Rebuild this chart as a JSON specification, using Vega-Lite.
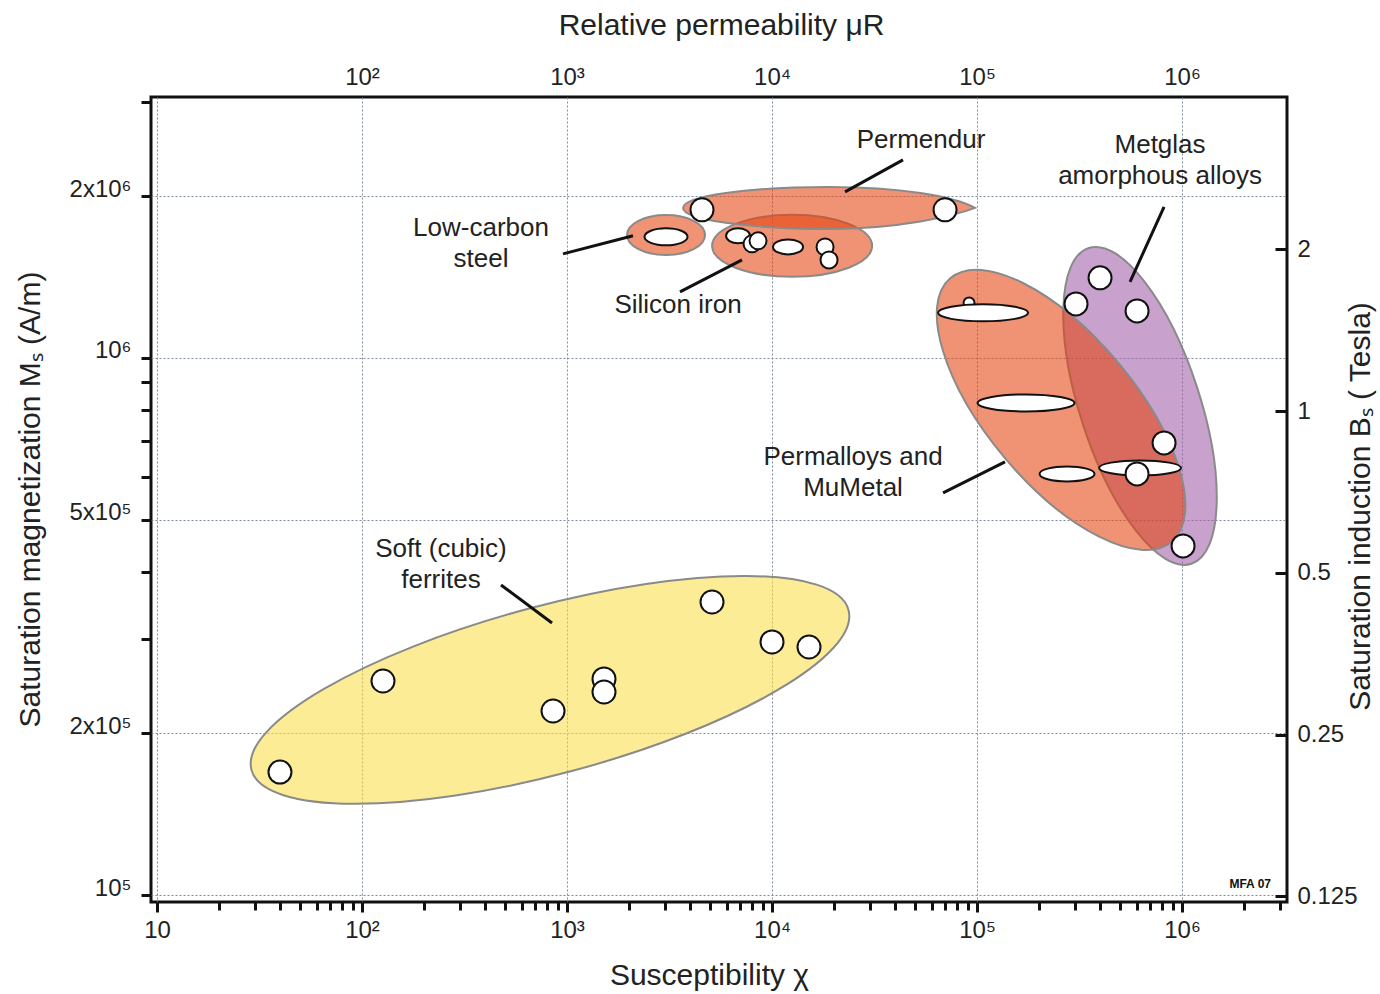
{
  "$schema": "https://vega.github.io/schema/vega-lite/v6.json",
  "width": 1136,
  "height": 805,
  "autosize": {"type": "none"},
  "padding": {"left": 151, "top": 97, "right": 93, "bottom": 92},
  "background": "white",
  "config": {
    "view": {"stroke": "#111111", "strokeWidth": 3},
    "font": "Liberation Sans",
    "text": {"font": "Liberation Sans"},
    "axis": {
      "labelFont": "Liberation Sans",
      "titleFont": "Liberation Sans",
      "labelColor": "#222222",
      "titleColor": "#222222",
      "titleFontWeight": "normal",
      "domain": false,
      "tickColor": "#111111"
    }
  },
  "datasets": {
    "regions": [
      {"material": "Soft (cubic) ferrites", "chi": 826, "ms": 240900},
      {"material": "Metglas amorphous alloys", "chi": 623700, "ms": 814000},
      {"material": "Permalloys and MuMetal", "chi": 257000, "ms": 800300},
      {"material": "Low-carbon steel", "chi": 3041, "ms": 1694000},
      {"material": "Silicon iron", "chi": 12530, "ms": 1617000},
      {"material": "Permendur", "chi": 18970, "ms": 1902000}
    ],
    "markers": [
      {"material": "Permalloys and MuMetal", "chi": 91410, "ms": 1265900, "marker": "tiny"},
      {"material": "Low-carbon steel", "chi": 3041, "ms": 1680500, "marker": "steel"},
      {"material": "Silicon iron", "chi": 6827, "ms": 1687700, "marker": "si1"},
      {"material": "Silicon iron", "chi": 7988, "ms": 1630400, "marker": "small"},
      {"material": "Silicon iron", "chi": 8544, "ms": 1651500, "marker": "small"},
      {"material": "Silicon iron", "chi": 11970, "ms": 1609400, "marker": "si2"},
      {"material": "Silicon iron", "chi": 18140, "ms": 1609400, "marker": "small"},
      {"material": "Silicon iron", "chi": 18970, "ms": 1522000, "marker": "small"},
      {"material": "Permalloys and MuMetal", "chi": 106980, "ms": 1212900, "marker": "p1"},
      {"material": "Permalloys and MuMetal", "chi": 173400, "ms": 824500, "marker": "p2"},
      {"material": "Permalloys and MuMetal", "chi": 274800, "ms": 608100, "marker": "p3"},
      {"material": "Permalloys and MuMetal", "chi": 624000, "ms": 623900, "marker": "p4"},
      {"material": "Soft (cubic) ferrites", "chi": 39.8, "ms": 169400, "marker": "large"},
      {"material": "Soft (cubic) ferrites", "chi": 126.6, "ms": 250300, "marker": "large"},
      {"material": "Soft (cubic) ferrites", "chi": 854.6, "ms": 220100, "marker": "large"},
      {"material": "Soft (cubic) ferrites", "chi": 1515, "ms": 252500, "marker": "large"},
      {"material": "Soft (cubic) ferrites", "chi": 1515, "ms": 238800, "marker": "large"},
      {"material": "Soft (cubic) ferrites", "chi": 5097, "ms": 351200, "marker": "large"},
      {"material": "Soft (cubic) ferrites", "chi": 10000, "ms": 295900, "marker": "large"},
      {"material": "Soft (cubic) ferrites", "chi": 15150, "ms": 289600, "marker": "large"},
      {"material": "Permendur", "chi": 4554, "ms": 1886800, "marker": "large"},
      {"material": "Permendur", "chi": 69820, "ms": 1886800, "marker": "large"},
      {"material": "Metglas amorphous alloys", "chi": 304000, "ms": 1260500, "marker": "large"},
      {"material": "Metglas amorphous alloys", "chi": 398100, "ms": 1409300, "marker": "large"},
      {"material": "Metglas amorphous alloys", "chi": 603300, "ms": 1223200, "marker": "large"},
      {"material": "Metglas amorphous alloys", "chi": 817000, "ms": 694500, "marker": "large"},
      {"material": "Permalloys and MuMetal", "chi": 603300, "ms": 608100, "marker": "large"},
      {"material": "Metglas amorphous alloys", "chi": 1011300, "ms": 446600, "marker": "large"}
    ],
    "labels": [
      {"label": "Permendur", "chi": 53310, "ms": 2546000},
      {"label": "Metglas\namorphous alloys", "chi": 781000, "ms": 2492500},
      {"label": "Low-carbon\nsteel", "chi": 380.7, "ms": 1746600},
      {"label": "Silicon iron", "chi": 3479, "ms": 1255400},
      {"label": "Permalloys and\nMuMetal", "chi": 24840, "ms": 654100},
      {"label": "Soft (cubic)\nferrites", "chi": 242.9, "ms": 440900}
    ],
    "leaders": [
      {"chi": 43550, "ms": 2337000, "chi2": 22710, "ms2": 2038000},
      {"chi": 817000, "ms": 1911000, "chi2": 557500, "ms2": 1385300},
      {"chi": 956, "ms": 1561800, "chi2": 2099, "ms2": 1687700},
      {"chi": 3557, "ms": 1327000, "chi2": 7140, "ms2": 1522000},
      {"chi": 68270, "ms": 560500, "chi2": 136900, "ms2": 640300},
      {"chi": 476.4, "ms": 377800, "chi2": 845.1, "ms2": 321000}
    ],
    "note": [
      {"note": "MFA 07", "chi": 2150000, "ms": 104800}
    ],
    "induction": [
      {"bs": 0.125}, {"bs": 0.25}, {"bs": 0.5}, {"bs": 1}, {"bs": 2}
    ]
  },
  "layer": [
    {
      "layer": [
        {
          "data": {"name": "regions"},
          "mark": {"type": "point", "filled": true, "size": 4, "opacity": 1, "fillOpacity": 0.57, "stroke": "#8a8a8a", "strokeWidth": 2, "strokeOpacity": 1},
          "encoding": {
            "x": {
              "field": "chi", "type": "quantitative",
              "scale": {"type": "log", "domain": [9.35, 3250000], "nice": false, "zero": false},
              "axis": {
                "orient": "bottom",
                "values": [10,20,30,40,50,60,70,80,90,100,200,300,400,500,600,700,800,900,1000,2000,3000,4000,5000,6000,7000,8000,9000,10000,20000,30000,40000,50000,60000,70000,80000,90000,100000,200000,300000,400000,500000,600000,700000,800000,900000,1000000,2000000,3000000],
                "labelExpr": "abs(log(datum.value)/LN10 - round(log(datum.value)/LN10)) < 0.001 ? (datum.value < 15 ? '10' : '10' + ['','','²','³','⁴','⁵','⁶'][round(log(datum.value)/LN10)]) : ''",
                "labelFontSize": 24,
                "labelPadding": 6,
                "labelFlush": false,
                "labelOverlap": false,
                "tickSize": {"condition": {"test": "abs(log(datum.value)/LN10 - round(log(datum.value)/LN10)) < 0.001", "value": 10}, "value": 8},
                "tickWidth": 3,
                "grid": true,
                "gridColor": "#7d8b9c",
                "gridDash": [2, 2],
                "gridWidth": 1,
                "gridOpacity": {"condition": {"test": "abs(log(datum.value)/LN10 - round(log(datum.value)/LN10)) < 0.001", "value": 1}, "value": 0},
                "title": "Susceptibility χ",
                "titleFontSize": 30,
                "titleX": 558,
                "titleY": 73,
                "titleAlign": "center",
                "titleBaseline": "middle"
              }
            },
            "y": {
              "field": "ms", "type": "quantitative",
              "scale": {"type": "log", "domain": [97050, 3060000], "nice": false, "zero": false},
              "axis": {
                "orient": "left",
                "values": [100000,200000,300000,400000,500000,600000,700000,800000,900000,1000000,2000000,3000000],
                "labelExpr": "datum.value == 100000 ? '10⁵' : datum.value == 200000 ? '2x10⁵' : datum.value == 500000 ? '5x10⁵' : datum.value == 1000000 ? '10⁶' : datum.value == 2000000 ? '2x10⁶' : ''",
                "labelFontSize": 24,
                "labelPadding": 10,
                "labelBaseline": "alphabetic",
                "labelOverlap": false,
                "tickSize": 10,
                "tickWidth": 3,
                "grid": true,
                "gridColor": "#7d8b9c",
                "gridDash": [2, 2],
                "gridWidth": 1,
                "gridOpacity": {"condition": {"test": "datum.value == 100000 || datum.value == 200000 || datum.value == 500000 || datum.value == 1000000 || datum.value == 2000000", "value": 1}, "value": 0},
                "title": "Saturation magnetization Mₛ (A/m)",
                "titleFontSize": 30,
                "titleAngle": -90,
                "titleX": -121,
                "titleY": 402,
                "titleAlign": "center",
                "titleBaseline": "middle"
              }
            },
            "shape": {
              "field": "material", "type": "nominal", "legend": null,
              "scale": {
                "domain": ["Soft (cubic) ferrites", "Metglas amorphous alloys", "Permalloys and MuMetal", "Low-carbon steel", "Silicon iron", "Permendur"],
                "range": [
                  "M 298.5 -80 A 309 84 -15 0 1 -298.5 80 A 309 84 -15 0 1 298.5 -80 Z",
                  "M 51.3 157.9 A 166 60 72 0 1 -51.3 -157.9 A 166 60 72 0 1 51.3 157.9 Z",
                  "M 110.6 131.8 A 172 74 50 0 1 -110.6 -131.8 A 172 74 50 0 1 110.6 131.8 Z",
                  "M -39 0 A 39 20 0 0 1 39 0 A 39 20 0 0 1 -39 0 Z",
                  "M -80 0 A 80 31 0 0 1 80 0 A 80 31 0 0 1 -80 0 Z",
                  "M 0 -21 C 70 -21 125 -12 146 0 C 125 8 70 21 0 21 A 146 21 0 0 1 0 -21 Z"
                ]
              }
            },
            "fill": {
              "field": "material", "type": "nominal", "legend": null,
              "scale": {
                "domain": ["Soft (cubic) ferrites", "Metglas amorphous alloys", "Permalloys and MuMetal", "Low-carbon steel", "Silicon iron", "Permendur"],
                "range": ["#FBDD47", "#9E5CA7", "#E5400A", "#E5400A", "#E5400A", "#E5400A"]
              }
            }
          }
        },
        {
          "data": {"name": "markers"},
          "mark": {"type": "point", "filled": true, "size": 4, "opacity": 1, "fill": "white", "stroke": "#111111", "strokeWidth": 2},
          "encoding": {
            "x": {"field": "chi", "type": "quantitative"},
            "y": {"field": "ms", "type": "quantitative"},
            "shape": {
              "field": "marker", "type": "nominal", "legend": null,
              "scale": {
                "domain": ["large", "small", "tiny", "steel", "si1", "si2", "p1", "p2", "p3", "p4"],
                "range": [
                  "M -11.5 0 A 11.5 11.5 0 0 1 11.5 0 A 11.5 11.5 0 0 1 -11.5 0 Z",
                  "M -8.5 0 A 8.5 8.5 0 0 1 8.5 0 A 8.5 8.5 0 0 1 -8.5 0 Z",
                  "M -5.5 0 A 5.5 5.5 0 0 1 5.5 0 A 5.5 5.5 0 0 1 -5.5 0 Z",
                  "M -21.5 0 A 21.5 8.5 0 0 1 21.5 0 A 21.5 8.5 0 0 1 -21.5 0 Z",
                  "M -12 0 A 12 7.5 0 0 1 12 0 A 12 7.5 0 0 1 -12 0 Z",
                  "M -15 0 A 15 7.5 0 0 1 15 0 A 15 7.5 0 0 1 -15 0 Z",
                  "M -45 0 A 45 8.5 0 0 1 45 0 A 45 8.5 0 0 1 -45 0 Z",
                  "M -48.5 0 A 48.5 8.5 0 0 1 48.5 0 A 48.5 8.5 0 0 1 -48.5 0 Z",
                  "M -27.5 0 A 27.5 7.5 0 0 1 27.5 0 A 27.5 7.5 0 0 1 -27.5 0 Z",
                  "M -41 0 A 41 7.5 0 0 1 41 0 A 41 7.5 0 0 1 -41 0 Z"
                ]
              }
            }
          }
        },
        {
          "data": {"name": "leaders"},
          "mark": {"type": "rule", "color": "#111111", "strokeWidth": 3},
          "encoding": {
            "x": {"field": "chi", "type": "quantitative"},
            "y": {"field": "ms", "type": "quantitative"},
            "x2": {"field": "chi2"},
            "y2": {"field": "ms2"}
          }
        },
        {
          "data": {"name": "labels"},
          "mark": {"type": "text", "fontSize": 26, "color": "#222222", "align": "center", "baseline": "middle", "lineBreak": "\n", "lineHeight": 31},
          "encoding": {
            "x": {"field": "chi", "type": "quantitative"},
            "y": {"field": "ms", "type": "quantitative"},
            "text": {"field": "label"}
          }
        },
        {
          "data": {"name": "note"},
          "mark": {"type": "text", "fontSize": 12, "fontWeight": "bold", "color": "#111111", "align": "center", "baseline": "middle"},
          "encoding": {
            "x": {"field": "chi", "type": "quantitative"},
            "y": {"field": "ms", "type": "quantitative"},
            "text": {"field": "note"}
          }
        }
      ],
      "resolve": {"scale": {"shape": "independent", "fill": "independent"}}
    },
    {
      "data": {"name": "regions"},
      "mark": {"type": "point", "opacity": 0},
      "encoding": {
        "x": {
          "field": "chi", "type": "quantitative",
          "scale": {"type": "log", "domain": [9.35, 3250000], "nice": false, "zero": false},
          "axis": {
            "orient": "top",
            "values": [100, 1000, 10000, 100000, 1000000],
            "labelExpr": "'10' + ['','','²','³','⁴','⁵','⁶'][round(log(datum.value)/LN10)]",
            "labelFontSize": 24,
            "labelPadding": 8,
            "labelOverlap": false,
            "ticks": false,
            "grid": false,
            "title": "Relative permeability  μR",
            "titleFontSize": 30,
            "titleX": 570,
            "titleY": -72,
            "titleAlign": "center",
            "titleBaseline": "middle"
          }
        }
      }
    },
    {
      "data": {"name": "induction"},
      "mark": {"type": "point", "opacity": 0},
      "encoding": {
        "y": {
          "field": "bs", "type": "quantitative",
          "scale": {"type": "log", "domain": [0.12196, 3.845], "nice": false, "zero": false},
          "axis": {
            "orient": "right",
            "values": [0.125, 0.25, 0.5, 1, 2],
            "format": "~g",
            "labelFontSize": 24,
            "labelPadding": 22,
            "labelOverlap": false,
            "tickSize": -12,
            "tickWidth": 3,
            "grid": false,
            "title": "Saturation induction Bₛ ( Tesla)",
            "titleFontSize": 30,
            "titleAngle": -90,
            "titleX": 73,
            "titleY": 409,
            "titleAlign": "center",
            "titleBaseline": "middle"
          }
        }
      }
    }
  ],
  "resolve": {"scale": {"x": "independent", "y": "independent"}}
}
